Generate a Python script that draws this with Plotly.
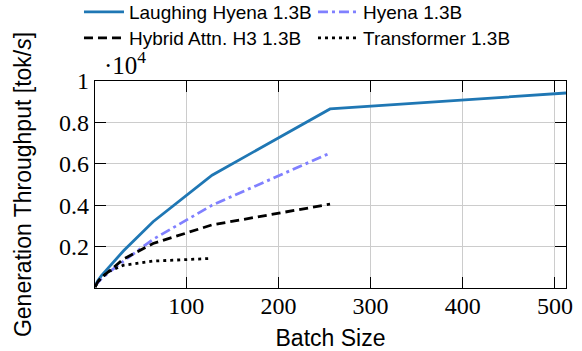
import plotly.graph_objects as go

batch_laughing = [1, 2, 4, 8, 16, 32, 64, 128, 256, 512]
thr_laughing = [0.01, 0.02, 0.035, 0.06, 0.10, 0.18, 0.32, 0.545, 0.865, 0.942]

batch_hyena = [1, 2, 4, 8, 16, 32, 64, 128, 256]
thr_hyena = [0.01, 0.015, 0.03, 0.045, 0.075, 0.13, 0.235, 0.40, 0.652]

batch_hybrid = [1, 2, 4, 8, 16, 32, 64, 128, 256]
thr_hybrid = [0.005, 0.015, 0.03, 0.05, 0.08, 0.14, 0.215, 0.305, 0.405]

batch_transformer = [1, 2, 4, 8, 16, 32, 64, 128]
thr_transformer = [0.005, 0.015, 0.03, 0.05, 0.08, 0.11, 0.13, 0.143]

x_ticks = [100, 200, 300, 400, 500]
y_ticks = [0.2, 0.4, 0.6, 0.8, 1.0]
y_ticktext = ["0.2", "0.4", "0.6", "0.8", "1"]

SERIF = "Liberation Serif"
SANS = "Liberation Sans"

fig = go.Figure()
fig.add_trace(go.Scatter(x=batch_laughing, y=thr_laughing, mode="lines",
                         name="Laughing Hyena 1.3B", legend="legend",
                         line=dict(color="#1f77b4", width=2.8)))
fig.add_trace(go.Scatter(x=batch_hyena, y=thr_hyena, mode="lines",
                         name="Hyena 1.3B", legend="legend",
                         line=dict(color="#8080ff", width=2.8, dash="10px,4px,3px,4px")))
fig.add_trace(go.Scatter(x=batch_hybrid, y=thr_hybrid, mode="lines",
                         name="Hybrid Attn. H3 1.3B", legend="legend2",
                         line=dict(color="black", width=2.8, dash="9px,5px")))
fig.add_trace(go.Scatter(x=batch_transformer, y=thr_transformer, mode="lines",
                         name="Transformer 1.3B", legend="legend2",
                         line=dict(color="black", width=2.8, dash="3px,4px")))

legend_common = dict(orientation="h", xanchor="left", yanchor="middle",
                     font=dict(family=SANS, size=19, color="black"),
                     itemwidth=40, entrywidth=179, bgcolor="rgba(0,0,0,0)",
                     traceorder="normal")

fig.update_layout(
    width=582, height=351,
    margin=dict(l=95, r=16, t=81, b=63, autoexpand=False),
    plot_bgcolor="white", paper_bgcolor="white",
    showlegend=True,
    legend=dict(x=-0.034, y=1.3335, **legend_common),
    legend2=dict(x=-0.034, y=1.2075, **legend_common),
    annotations=[dict(text="·10<sup>4</sup>", xref="paper", yref="paper", x=0.015, y=1,
                      xanchor="left", yanchor="bottom", yshift=0, showarrow=False,
                      font=dict(family=SERIF, size=25, color="black"))],
)
fig.update_xaxes(range=[1, 512], tickvals=x_ticks, automargin=False,
                 showgrid=True, gridcolor="#cccccc", gridwidth=1,
                 showline=True, linecolor="black", linewidth=1.2, mirror="ticks",
                 ticks="inside", ticklen=11, tickcolor="black", tickwidth=1.2,
                 tickfont=dict(family=SERIF, size=24, color="black"),
                 ticklabelstandoff=-4,
                 zeroline=False,
                 title=dict(text="Batch Size", font=dict(family=SANS, size=23, color="black"),
                            standoff=27))
fig.update_yaxes(range=[0, 1], tickvals=y_ticks, ticktext=y_ticktext, automargin=False,
                 showgrid=True, gridcolor="#cccccc", gridwidth=1,
                 showline=True, linecolor="black", linewidth=1.2, mirror="ticks",
                 ticks="inside", ticklen=11, tickcolor="black", tickwidth=1.2,
                 tickfont=dict(family=SERIF, size=24, color="black"),
                 zeroline=False,
                 title=dict(text="Generation Throughput [tok/<i>s</i>]",
                            font=dict(family=SANS, size=23, color="black"),
                            standoff=21))

fig.write_html("out.html")
